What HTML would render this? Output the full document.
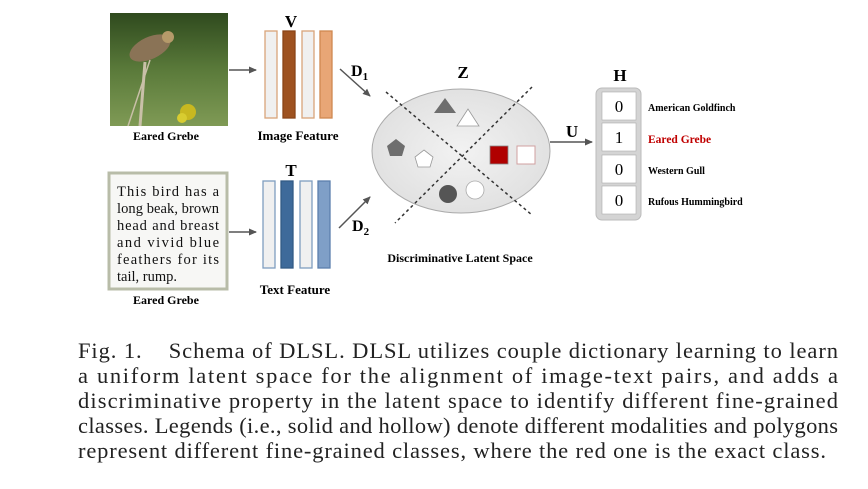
<!DOCTYPE html>
<html><head><meta charset="utf-8"><style>
html,body{margin:0;padding:0;background:#fff;}
svg{display:block;}
.b{font-family:"Liberation Serif",serif;font-weight:bold;}
.s{font-family:"Liberation Serif",serif;}
</style></head><body>
<svg width="868" height="489" viewBox="0 0 868 489">
<defs>
<marker id="ah" markerWidth="8" markerHeight="8" refX="7" refY="4" orient="auto" markerUnits="userSpaceOnUse"><path d="M0,0.5 L8,4 L0,7.5 z" fill="#555"/></marker>
<linearGradient id="bg" x1="0" y1="0" x2="0" y2="1"><stop offset="0" stop-color="#2f4a1e"/><stop offset="0.5" stop-color="#5a7a3a"/><stop offset="1" stop-color="#7f9a55"/></linearGradient>
<radialGradient id="ell" cx="0.5" cy="0.5" r="0.6"><stop offset="0" stop-color="#f2f2f2"/><stop offset="1" stop-color="#dedede"/></radialGradient>
</defs>
<g>
<rect x="110" y="13" width="118" height="113" fill="url(#bg)"/>
<ellipse cx="150" cy="48" rx="22" ry="11" fill="#8a7356" transform="rotate(-25 150 48)"/>
<circle cx="168" cy="37" r="6" fill="#b59a6a"/>
<line x1="145" y1="62" x2="140" y2="126" stroke="#c9c0a8" stroke-width="3"/>
<line x1="150" y1="60" x2="128" y2="126" stroke="#c9c0a8" stroke-width="1.5"/>
<circle cx="188" cy="112" r="8" fill="#c8b820"/>
<circle cx="182" cy="118" r="5" fill="#d8cc30"/>
</g>
<text x="166" y="140" text-anchor="middle" class="b" font-size="12">Eared Grebe</text>
<line x1="229" y1="70" x2="256" y2="70" stroke="#555" stroke-width="1.5" marker-end="url(#ah)"/>
<g stroke-width="1.3">
<rect x="265" y="31" width="12" height="87" fill="#f0f0f0" stroke="#d9a47a"/>
<rect x="283" y="31" width="12" height="87" fill="#9e5220" stroke="#8a4518"/>
<rect x="302" y="31" width="12" height="87" fill="#f0f0f0" stroke="#d9a47a"/>
<rect x="320" y="31" width="12" height="87" fill="#e8a676" stroke="#d08850"/>
</g>
<text x="291" y="27" text-anchor="middle" class="b" font-size="17">V</text>
<text x="298" y="140" text-anchor="middle" class="b" font-size="13">Image Feature</text>
<line x1="340" y1="69" x2="370" y2="96" stroke="#555" stroke-width="1.5" marker-end="url(#ah)"/>
<text x="351" y="76" class="b" font-size="16">D<tspan font-size="11" dy="4">1</tspan></text>
<g>
<rect x="109" y="173" width="118" height="116" fill="#f7f7f5" stroke="#b8bca8" stroke-width="3"/>
<g class="s" font-size="14.5" fill="#111">
<text x="117" y="196" textLength="102" lengthAdjust="spacing">This bird has a</text>
<text x="117" y="213" textLength="102" lengthAdjust="spacing">long beak, brown</text>
<text x="117" y="230" textLength="102" lengthAdjust="spacing">head and breast</text>
<text x="117" y="247" textLength="102" lengthAdjust="spacing">and vivid blue</text>
<text x="117" y="264" textLength="102" lengthAdjust="spacing">feathers for its</text>
<text x="117" y="281">tail, rump.</text>
</g>
</g>
<text x="166" y="304" text-anchor="middle" class="b" font-size="12">Eared Grebe</text>
<line x1="229" y1="232" x2="256" y2="232" stroke="#555" stroke-width="1.5" marker-end="url(#ah)"/>
<g stroke-width="1.3">
<rect x="263" y="181" width="12" height="87" fill="#f0f0f0" stroke="#7f9ec0"/>
<rect x="281" y="181" width="12" height="87" fill="#3e6a9a" stroke="#335a85"/>
<rect x="300" y="181" width="12" height="87" fill="#f0f0f0" stroke="#7f9ec0"/>
<rect x="318" y="181" width="12" height="87" fill="#7f9fc7" stroke="#5c80ad"/>
</g>
<text x="291" y="176" text-anchor="middle" class="b" font-size="17">T</text>
<text x="295" y="294" text-anchor="middle" class="b" font-size="13">Text Feature</text>
<line x1="339" y1="228" x2="370" y2="197" stroke="#555" stroke-width="1.5" marker-end="url(#ah)"/>
<text x="352" y="231" class="b" font-size="16">D<tspan font-size="11" dy="4">2</tspan></text>
<ellipse cx="461" cy="151" rx="89" ry="62" fill="url(#ell)" stroke="#aaa" stroke-width="1"/>
<line x1="386" y1="92" x2="532" y2="215" stroke="#333" stroke-width="1.5" stroke-dasharray="3,3"/>
<line x1="532" y1="87" x2="395" y2="223" stroke="#333" stroke-width="1.5" stroke-dasharray="3,3"/>
<text x="463" y="78" text-anchor="middle" class="b" font-size="17">Z</text>
<polygon points="445,98 434,113 456,113" fill="#6e6e6e"/>
<polygon points="468,109 457,126 479,126" fill="#fff" stroke="#999" stroke-width="0.8"/>
<polygon points="396,139 405,146 402,156 390,156 387,146" fill="#6e6e6e"/>
<polygon points="424,150 433,157 430,167 418,167 415,157" fill="#fff" stroke="#999" stroke-width="0.8"/>
<rect x="490" y="146" width="18" height="18" fill="#b00000" stroke="#888" stroke-width="0.8"/>
<rect x="517" y="146" width="18" height="18" fill="#fff" stroke="#d0a0a0" stroke-width="1"/>
<circle cx="448" cy="194" r="9" fill="#555"/>
<circle cx="475" cy="190" r="9" fill="#fff" stroke="#aaa" stroke-width="0.8"/>
<text x="460" y="262" text-anchor="middle" class="b" font-size="12">Discriminative Latent Space</text>
<line x1="550" y1="142" x2="592" y2="142" stroke="#555" stroke-width="1.5" marker-end="url(#ah)"/>
<text x="572" y="137" text-anchor="middle" class="b" font-size="17">U</text>
<text x="620" y="81" text-anchor="middle" class="b" font-size="17">H</text>
<rect x="596" y="88" width="45" height="132" rx="6" fill="#d4d4d4" stroke="#bbb"/>
<g class="s" font-size="17" text-anchor="middle">
<rect x="602" y="92" width="34" height="28" fill="#fff" stroke="#aaa" stroke-width="0.6"/>
<text x="619" y="112">0</text>
<rect x="602" y="123" width="34" height="28" fill="#fff" stroke="#aaa" stroke-width="0.6"/>
<text x="619" y="143">1</text>
<rect x="602" y="155" width="34" height="28" fill="#fff" stroke="#aaa" stroke-width="0.6"/>
<text x="619" y="175">0</text>
<rect x="602" y="186" width="34" height="28" fill="#fff" stroke="#aaa" stroke-width="0.6"/>
<text x="619" y="206">0</text>
</g>
<g class="b" font-size="10">
<text x="648" y="111">American Goldfinch</text>
<text x="648" y="143" fill="#c00000" font-size="11.5">Eared Grebe</text>
<text x="648" y="174">Western Gull</text>
<text x="648" y="205">Rufous Hummingbird</text>
</g>
<g class="s" font-size="22.5" fill="#222">
<text x="78" y="358" textLength="760" lengthAdjust="spacing">Fig. 1.&#160;&#160;&#160;&#160;Schema of DLSL. DLSL utilizes couple dictionary learning to learn</text>
<text x="78" y="383" textLength="760" lengthAdjust="spacing">a uniform latent space for the alignment of image-text pairs, and adds a</text>
<text x="78" y="408" textLength="760" lengthAdjust="spacing">discriminative property in the latent space to identify different fine-grained</text>
<text x="78" y="433" textLength="760" lengthAdjust="spacing">classes. Legends (i.e., solid and hollow) denote different modalities and polygons</text>
<text x="78" y="458" textLength="748" lengthAdjust="spacing">represent different fine-grained classes, where the red one is the exact class.</text>
</g>
</svg>
</body></html>
